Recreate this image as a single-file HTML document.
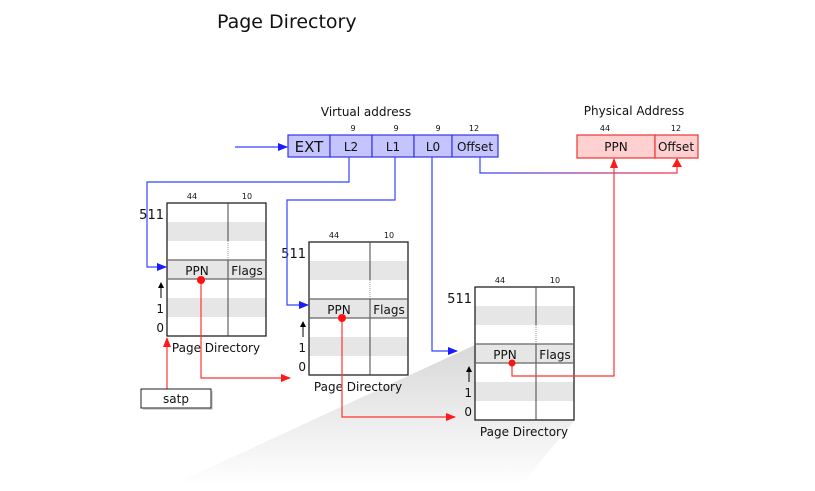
<!DOCTYPE html>
<html><head><meta charset="utf-8"><style>
body{margin:0;background:#fff;width:815px;height:486px;overflow:hidden}
svg text{font-family:"DejaVu Sans","Liberation Sans",sans-serif;fill:#111}
</style></head><body>
<svg width="815" height="486" viewBox="0 0 815 486" xmlns="http://www.w3.org/2000/svg">
<defs>
<linearGradient id="sh" x1="0" y1="0" x2="0" y2="1"><stop offset="0" stop-color="#d8d8d8"/><stop offset="1" stop-color="#fff"/></linearGradient>
<linearGradient id="br" x1="0" y1="0" x2="1" y2="0"><stop offset="0" stop-color="#3344ff"/><stop offset="1" stop-color="#ff3344"/></linearGradient>
<marker id="ab" markerWidth="10" markerHeight="8" refX="9" refY="4" orient="auto" markerUnits="userSpaceOnUse"><path d="M0,0L10,4L0,8z" fill="#1a1aff"/></marker>
<marker id="ar" markerWidth="10" markerHeight="8" refX="9" refY="4" orient="auto" markerUnits="userSpaceOnUse"><path d="M0,0L10,4L0,8z" fill="#ff1a1a"/></marker>
<marker id="ak" markerWidth="6" markerHeight="6" refX="5" refY="3" orient="auto" markerUnits="userSpaceOnUse"><path d="M0,0L6,3L0,6z" fill="#000"/></marker>
</defs>
<text x="217" y="28" font-size="19" style="font-family:'Comic Sans MS','DejaVu Sans',sans-serif">Page Directory</text>
<polygon points="475,345 170,486 520,486 575,420" fill="url(#sh)"/>
<!-- virtual address -->
<text x="366" y="116" font-size="12" text-anchor="middle">Virtual address</text>
<g fill="#c4c4ff" stroke="#3333ee" stroke-width="1.2">
<rect x="288" y="135" width="42" height="22"/><rect x="330" y="135" width="42" height="22"/><rect x="372" y="135" width="42" height="22"/><rect x="414" y="135" width="38" height="22"/><rect x="452" y="135" width="46" height="22"/></g>
<g font-size="12" text-anchor="middle"><text x="309" y="152" font-size="15">EXT</text><text x="351" y="151">L2</text><text x="393" y="151">L1</text><text x="433" y="151">L0</text><text x="475" y="151">Offset</text></g>
<g font-size="8" text-anchor="middle"><text x="353" y="131">9</text><text x="396" y="131">9</text><text x="438" y="131">9</text><text x="474" y="131">12</text></g>
<!-- physical -->
<text x="634" y="115" font-size="12" text-anchor="middle">Physical Address</text>
<g fill="#ffd0d0" stroke="#ee3333" stroke-width="1.2"><rect x="577" y="135" width="78" height="23"/><rect x="655" y="135" width="43" height="23"/></g>
<g font-size="12" text-anchor="middle"><text x="616" y="151">PPN</text><text x="676" y="151">Offset</text></g>
<g font-size="8" text-anchor="middle"><text x="605" y="131">44</text><text x="676" y="131">12</text></g>
<!-- tables -->
<g id="t">
<rect x="167" y="203" width="99" height="133" fill="#fff"/>
<rect x="167" y="222" width="99" height="19" fill="#e6e6e6"/><rect x="167" y="260" width="99" height="19" fill="#e6e6e6"/><rect x="167" y="298" width="99" height="19" fill="#e6e6e6"/>
<rect x="167" y="203" width="99" height="133" fill="none" stroke="#222" stroke-width="1.3"/>
<line x1="228" y1="203" x2="228" y2="241" stroke="#444"/><line x1="228" y1="241" x2="228" y2="260" stroke="#999" stroke-dasharray="1,1"/><line x1="228" y1="260" x2="228" y2="336" stroke="#444"/>
<line x1="167" y1="260" x2="266" y2="260" stroke="#666" stroke-width="1.3"/><line x1="167" y1="279" x2="266" y2="279" stroke="#666" stroke-width="1.3"/>
<text x="197" y="275" font-size="12" text-anchor="middle">PPN</text><text x="247" y="275" font-size="12" text-anchor="middle">Flags</text>
<text x="192" y="199" font-size="8" text-anchor="middle">44</text><text x="247" y="199" font-size="8" text-anchor="middle">10</text>
<text x="164" y="219" font-size="13" text-anchor="end">511</text>
<text x="164" y="313" font-size="12" text-anchor="end">1</text><text x="164" y="332" font-size="12" text-anchor="end">0</text>
<line x1="161" y1="298" x2="161" y2="283" stroke="#000" marker-end="url(#ak)"/>
<text x="216" y="352" font-size="12" text-anchor="middle">Page Directory</text>
</g>
<use href="#t" transform="translate(142,39)"/>
<use href="#t" transform="translate(308,84)"/>
<!-- blue connectors -->
<g fill="none" stroke="#3344ff" stroke-width="1.2">
<line x1="235" y1="147" x2="287" y2="147" marker-end="url(#ab)"/>
<polyline points="349,157 349,182 147,182 147,267 166,267" marker-end="url(#ab)"/>
<polyline points="395,157 395,200 287,200 287,305 308,305" marker-end="url(#ab)"/>
<polyline points="432,157 432,351 457,351" marker-end="url(#ab)"/>
</g>
<polyline points="480,157 480,173 677,173 677,159" fill="none" stroke="url(#br)" stroke-width="1.2"/>
<path d="M672,167L677,158L682,167z" fill="#ff1a1a"/>
<!-- red connectors -->
<g fill="none" stroke="#ff3333" stroke-width="1.2">
<polyline points="201,280 201,378 290,378" marker-end="url(#ar)"/>
<polyline points="342,318 342,417 455,417" marker-end="url(#ar)"/>
<polyline points="512,363 512,376 614,376 614,159" marker-end="url(#ar)"/>
<line x1="167" y1="389" x2="167" y2="338" marker-end="url(#ar)"/>
</g>
<g fill="#ff1111"><circle cx="201" cy="280" r="4"/><circle cx="342" cy="318" r="4"/><circle cx="512" cy="363" r="3.5"/></g>
<rect x="143" y="391" width="70" height="19" fill="#bbb" opacity="0.6"/>
<rect x="141" y="389" width="70" height="19" fill="#fff" stroke="#222"/>
<text x="176" y="403" font-size="12" text-anchor="middle">satp</text>
</svg>
</body></html>
